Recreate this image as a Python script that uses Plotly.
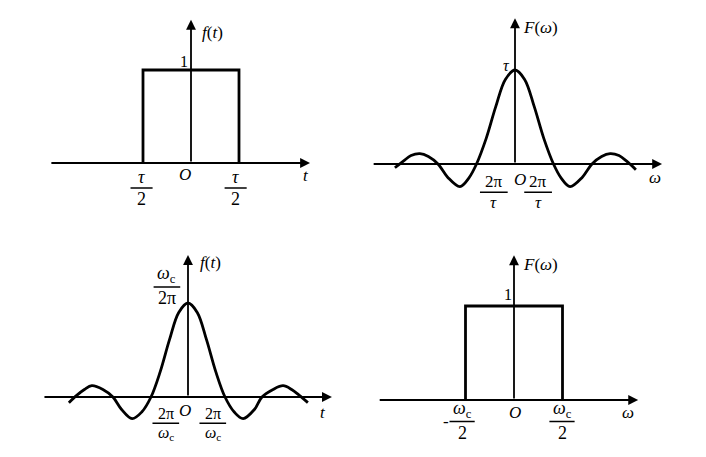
import plotly.graph_objects as go

W, H = 706, 457

# top-left: rectangular pulse f(t); t in units of tau/2, f in units of 1
pulse_t = [-1, -1, 1, 1]
pulse_f = [0, 1, 1, 0]

# top-right: spectrum F(w); w in units of 2pi/tau, F in units of tau
spec_w = [-3.12, -2.9, -2.7, -2.47, -2.25, -2.0, -1.75, -1.43, -1.2, -1.0, -0.75, -0.5, -0.25, 0.0,
          0.25, 0.5, 0.75, 1.0, 1.2, 1.43, 1.75, 2.0, 2.25, 2.47, 2.7, 2.9, 3.14]
spec_F = [-0.04, 0.03, 0.09, 0.11, 0.08, 0.0, -0.14, -0.24, -0.15, 0.0, 0.27, 0.61, 0.9, 1.0,
          0.9, 0.61, 0.27, 0.0, -0.15, -0.24, -0.14, 0.0, 0.08, 0.11, 0.09, 0.03, -0.06]

# bottom-left: f(t); t in units of 2pi/wc, f in units of wc/2pi
sinc_t = [-3.22, -3.0, -2.8, -2.6, -2.3, -2.03, -1.8, -1.51, -1.25, -1.0, -0.75, -0.5, -0.25, 0.0,
          0.25, 0.5, 0.75, 1.0, 1.25, 1.49, 1.8, 2.0, 2.3, 2.57, 2.8, 3.0, 3.24]
sinc_f = [-0.06, 0.02, 0.08, 0.12, 0.08, 0.0, -0.13, -0.23, -0.16, 0.0, 0.27, 0.61, 0.9, 1.0,
          0.9, 0.61, 0.27, 0.0, -0.16, -0.23, -0.13, 0.0, 0.08, 0.12, 0.08, 0.02, -0.06]

# bottom-right: ideal low-pass F(w); w in units of wc/2
band_w = [-1, -1, 1, 1]
band_F = [0, 1, 1, 0]

# axis extents (horizontal start/end, vertical top) per panel
axis_ext = {
    "tl": (-2.94, 2.48, 1.54),
    "tr": (-3.71, 3.82, 1.55),
    "bl": (-3.92, 3.89, 1.51),
    "br": (-2.8, 2.56, 1.54),
}

# panel placement: origin in pixels, pixels per unit, data ranges
panels = {
    "tl": dict(ax="", ox=191, oy=163, ux=48, uy=93, xr=[-3.1, 2.8], yr=[-0.8, 1.7]),
    "tr": dict(ax="2", ox=515, oy=164, ux=38.5, uy=94, xr=[-3.9, 4.0], yr=[-0.8, 1.7]),
    "bl": dict(ax="3", ox=188, oy=397, ux=37, uy=94, xr=[-4.1, 4.1], yr=[-0.6, 1.6]),
    "br": dict(ax="4", ox=514, oy=400, ux=48.5, uy=94, xr=[-2.9, 2.8], yr=[-0.6, 1.5]),
}

FONT = "Liberation Serif"
fig = go.Figure()
annotations = []
shapes = []

for key, p in panels.items():
    xd = [(p["ox"] + p["xr"][0] * p["ux"]) / W, (p["ox"] + p["xr"][1] * p["ux"]) / W]
    yd = [1 - (p["oy"] - p["yr"][0] * p["uy"]) / H, 1 - (p["oy"] - p["yr"][1] * p["uy"]) / H]
    ax_cfg = dict(visible=False, fixedrange=True)
    fig.update_layout(**{
        "xaxis" + p["ax"]: dict(domain=xd, range=p["xr"], **ax_cfg),
        "yaxis" + p["ax"]: dict(domain=yd, range=p["yr"], **ax_cfg),
    })
    xr_, yr_ = "x" + p["ax"], "y" + p["ax"]
    x0, x1, ytop = axis_ext[key]
    for hx, hy, tx, ty in [(x1, 0, x0, 0), (0, ytop, 0, 0)]:
        annotations.append(dict(
            x=hx, y=hy, ax=tx, ay=ty, xref=xr_, yref=yr_, axref=xr_, ayref=yr_,
            text="", showarrow=True, arrowhead=2, arrowsize=1.1, arrowwidth=1.8,
            arrowcolor="black"))

line = dict(color="black", width=2.8)
fig.add_trace(go.Scatter(x=pulse_t, y=pulse_f, mode="lines", line=line, xaxis="x", yaxis="y"))
fig.add_trace(go.Scatter(x=spec_w, y=spec_F, mode="lines", line=dict(line, shape="spline", smoothing=1.0),
                         xaxis="x2", yaxis="y2"))
fig.add_trace(go.Scatter(x=sinc_t, y=sinc_f, mode="lines", line=dict(line, shape="spline", smoothing=1.0),
                         xaxis="x3", yaxis="y3"))
fig.add_trace(go.Scatter(x=band_w, y=band_F, mode="lines", line=line, xaxis="x4", yaxis="y4"))


def label(ax, x, y, text, size=17):
    annotations.append(dict(x=x, y=y, xref="x" + ax, yref="y" + ax, text=text, showarrow=False,
                            borderpad=0, font=dict(family=FONT, size=size, color="black")))


def frac(ax, xc, ybar, half, num, den, size=18):
    shapes.append(dict(type="line", xref="x" + ax, yref="y" + ax, x0=xc - half, x1=xc + half,
                       y0=ybar, y1=ybar, line=dict(color="black", width=1.5)))
    annotations.append(dict(x=xc, y=ybar, xref="x" + ax, yref="y" + ax, text=num, showarrow=False,
                            yanchor="bottom", borderpad=0,
                            font=dict(family=FONT, size=size, color="black")))
    annotations.append(dict(x=xc, y=ybar, xref="x" + ax, yref="y" + ax, text=den, showarrow=False,
                            yanchor="top", borderpad=0,
                            font=dict(family=FONT, size=size, color="black")))


wc = "<i>ω</i><sub>c</sub>"

# top-left
label("", 0.44, 1.40, "<i>f</i>(<i>t</i>)")
label("", -0.15, 1.09, "1", 16)
label("", -0.125, -0.12, "<i>O</i>")
label("", 2.4, -0.13, "<i>t</i>")
frac("", -1.03, -0.27, 0.23, "<i>τ</i>", "2")
frac("", 0.93, -0.27, 0.23, "<i>τ</i>", "2")

# top-right
label("2", 0.65, 1.45, "<i>F</i>(<i>ω</i>)")
label("2", -0.21, 1.05, "<i>τ</i>", 16)
label("2", 0.14, -0.17, "<i>O</i>")
label("2", 3.64, -0.14, "<i>ω</i>")
frac("2", -0.55, -0.30, 0.36, "2π", "<i>τ</i>", 17)
frac("2", 0.6, -0.30, 0.36, "2π", "<i>τ</i>", 17)

# bottom-left
label("3", 0.6, 1.43, "<i>f</i>(<i>t</i>)")
label("3", -0.08, -0.14, "<i>O</i>")
label("3", 3.65, -0.17, "<i>t</i>")
frac("3", -0.57, 1.17, 0.36, wc, "2π")
frac("3", -0.6, -0.28, 0.36, "2π", wc, 16)
frac("3", 0.67, -0.28, 0.36, "2π", wc, 16)

# bottom-right
label("4", 0.54, 1.44, "<i>F</i>(<i>ω</i>)")
label("4", -0.12, 1.12, "1", 16)
label("4", 0.02, -0.13, "<i>O</i>")
label("4", 2.35, -0.13, "<i>ω</i>")
label("4", -1.4, -0.23, "-")
frac("4", -1.07, -0.23, 0.26, wc, "2")
frac("4", 0.99, -0.23, 0.26, wc, "2")

fig.update_layout(
    width=W, height=H,
    margin=dict(l=0, r=0, t=0, b=0),
    paper_bgcolor="white", plot_bgcolor="white",
    showlegend=False,
    annotations=annotations,
    shapes=shapes,
)

fig.write_html("out.html", config={"displayModeBar": False},
               post_script="document.body.style.margin='0';")
